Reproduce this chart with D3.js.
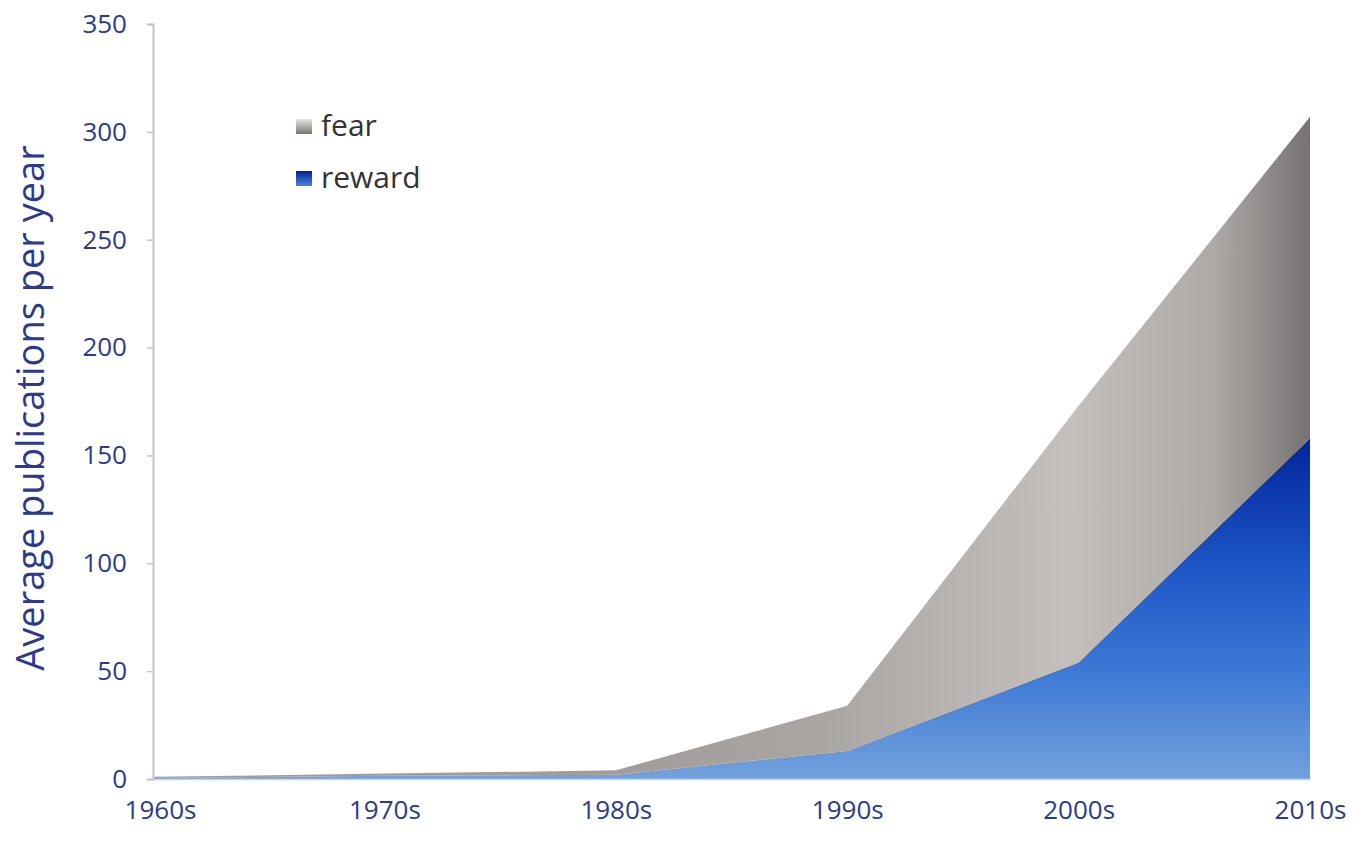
<!DOCTYPE html>
<html>
<head>
<meta charset="utf-8">
<script src="https://cdn.jsdelivr.net/npm/d3@7/dist/d3.min.js"></script>
<style>
  html, body { margin: 0; padding: 0; background: #fff; }
  svg text { font-family: "Open Sans", Lato, sans-serif; }
</style>
</head>
<body>
<svg id="chart" width="1372" height="842"></svg>
<script>
// Data
const decades = ["1960s", "1970s", "1980s", "1990s", "2000s", "2010s"];
const reward  = [0.5, 1.5, 2, 13, 54, 158];
const fear    = [0.5, 1, 2, 21, 119, 149];
const yTicks  = [0, 50, 100, 150, 200, 250, 300, 350];

const svg = d3.select("#chart");
const margin = { top: 24, right: 62, bottom: 63, left: 153 };
const width = 1372, height = 842;
const innerW = width - margin.left - margin.right;
const innerH = height - margin.top - margin.bottom;

const labelColor = "#2b3a8f";

const x = d3.scalePoint().domain(decades).range([0, innerW]);
const y = d3.scaleLinear().domain([0, 350]).range([innerH, 0]);

const g = svg.append("g").attr("transform", `translate(${margin.left},${margin.top})`);

// stack: reward on the bottom, fear on top
const rows = decades.map((d, i) => ({ decade: d, reward: reward[i], fear: fear[i] }));
const series = d3.stack().keys(["reward", "fear"])(rows);

// gradients
const defs = svg.append("defs");
const gBlue = defs.append("linearGradient")
  .attr("id", "gradReward").attr("gradientUnits", "userSpaceOnUse")
  .attr("x1", 0).attr("x2", 0).attr("y1", y(160)).attr("y2", y(0));
gBlue.append("stop").attr("offset", 0).attr("stop-color", "#00239a");
gBlue.append("stop").attr("offset", 0.4).attr("stop-color", "#1f58c8");
gBlue.append("stop").attr("offset", 0.7).attr("stop-color", "#3f7ad6");
gBlue.append("stop").attr("offset", 1).attr("stop-color", "#73a1dc");

const gGray = defs.append("linearGradient")
  .attr("id", "gradFear").attr("gradientUnits", "userSpaceOnUse")
  .attr("x1", x("1980s")).attr("x2", x("2010s")).attr("y1", 0).attr("y2", 0);
gGray.append("stop").attr("offset", 0).attr("stop-color", "#a09c9a");
gGray.append("stop").attr("offset", 0.3).attr("stop-color", "#aaa6a4");
gGray.append("stop").attr("offset", 0.65).attr("stop-color", "#c3bfbd");
gGray.append("stop").attr("offset", 0.86).attr("stop-color", "#adaaa8");
gGray.append("stop").attr("offset", 1).attr("stop-color", "#767271");

// legend icon gradients
const lgGray = defs.append("linearGradient").attr("id", "lgFear")
  .attr("x1", 0).attr("x2", 0).attr("y1", 0).attr("y2", 1);
lgGray.append("stop").attr("offset", 0).attr("stop-color", "#e6e4e3");
lgGray.append("stop").attr("offset", 1).attr("stop-color", "#7a7674");
const lgBlue = defs.append("linearGradient").attr("id", "lgReward")
  .attr("x1", 0).attr("x2", 0).attr("y1", 0).attr("y2", 1);
lgBlue.append("stop").attr("offset", 0).attr("stop-color", "#00239a");
lgBlue.append("stop").attr("offset", 1).attr("stop-color", "#4a80d8");

const area = d3.area()
  .x(d => x(d.data.decade))
  .y0(d => y(d[0]))
  .y1(d => y(d[1]));

g.append("g")
  .selectAll("path")
  .data(series)
  .join("path")
  .attr("d", area)
  .attr("fill", d => d.key === "reward" ? "url(#gradReward)" : "url(#gradFear)");

// Y axis
const gy = g.append("g")
  .call(d3.axisLeft(y).tickValues(yTicks).tickSize(6).tickPadding(20));
gy.select(".domain").attr("stroke", "#c4c4c4").attr("stroke-width", 2);
gy.selectAll(".tick line").attr("stroke", "#c4c4c4").attr("stroke-width", 1.5);
gy.selectAll("text").attr("fill", labelColor).style("font-size", "26px");

// X axis
const gx = g.append("g")
  .attr("transform", `translate(0,${innerH})`)
  .call(d3.axisBottom(x).tickSize(0).tickPadding(22));
gx.select(".domain").attr("stroke", "#c8d4e8").attr("stroke-width", 1.5);
gx.selectAll("text").attr("fill", labelColor).style("font-size", "26px");
gx.selectAll(".tick text").filter(d => d === "1960s").attr("dx", 7);

// Y title
svg.append("text")
  .attr("transform", "translate(44,408) rotate(-90)")
  .attr("text-anchor", "middle")
  .attr("fill", labelColor)
  .style("font-size", "38px")
  .text("Average publications per year");

// Legend
const legend = svg.append("g").attr("transform", "translate(296,0)");
const legendItems = [
  { name: "fear", fill: "url(#lgFear)", y: 126 },
  { name: "reward", fill: "url(#lgReward)", y: 178 }
];
legend.selectAll("rect")
  .data(legendItems)
  .join("rect")
  .attr("x", 0).attr("y", d => d.y - 7)
  .attr("width", 16).attr("height", 15)
  .attr("fill", d => d.fill);
legend.selectAll("text")
  .data(legendItems)
  .join("text")
  .attr("x", 25).attr("y", d => d.y + 10)
  .attr("fill", "#333")
  .style("font-size", "30px")
  .text(d => d.name);
</script>
</body>
</html>
